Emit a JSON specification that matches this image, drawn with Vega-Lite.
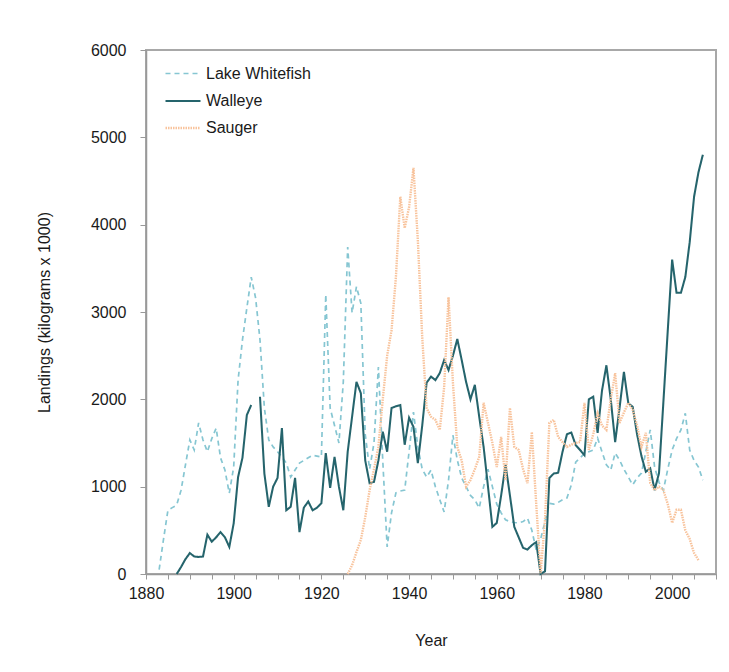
{
  "$schema": "https://vega.github.io/schema/vega-lite/v6.json",
  "width": 570,
  "height": 524,
  "autosize": {"type": "none"},
  "padding": {"left": 146, "top": 50, "right": 13, "bottom": 98},
  "background": "white",
  "config": {
    "font": "Liberation Sans",
    "view": {"stroke": "#a8a8a8", "strokeWidth": 2},
    "axis": {"labelFont": "Liberation Sans", "titleFont": "Liberation Sans", "labelColor": "#1a1a1a", "titleColor": "#1a1a1a", "labelFontSize": 16, "titleFontSize": 16, "titleFontWeight": "normal", "domainColor": "#999", "domainWidth": 1.5, "tickColor": "#999", "grid": false}
  },
  "data": {"values": [
    {"year":1883,"Lake Whitefish":50},
    {"year":1884,"Lake Whitefish":400},
    {"year":1885,"Lake Whitefish":730},
    {"year":1886,"Lake Whitefish":760},
    {"year":1887,"Lake Whitefish":790,"Walleye":0},
    {"year":1888,"Lake Whitefish":960,"Walleye":80},
    {"year":1889,"Lake Whitefish":1250,"Walleye":170},
    {"year":1890,"Lake Whitefish":1535,"Walleye":240},
    {"year":1891,"Lake Whitefish":1420,"Walleye":200},
    {"year":1892,"Lake Whitefish":1730,"Walleye":195},
    {"year":1893,"Lake Whitefish":1535,"Walleye":200},
    {"year":1894,"Lake Whitefish":1400,"Walleye":450},
    {"year":1895,"Lake Whitefish":1550,"Walleye":370},
    {"year":1896,"Lake Whitefish":1670,"Walleye":420},
    {"year":1897,"Lake Whitefish":1330,"Walleye":480},
    {"year":1898,"Lake Whitefish":1190,"Walleye":420},
    {"year":1899,"Lake Whitefish":925,"Walleye":310},
    {"year":1900,"Lake Whitefish":1225,"Walleye":580},
    {"year":1901,"Lake Whitefish":2220,"Walleye":1110},
    {"year":1902,"Lake Whitefish":2680,"Walleye":1330},
    {"year":1903,"Lake Whitefish":3045,"Walleye":1820},
    {"year":1904,"Lake Whitefish":3400,"Walleye":1935},
    {"year":1905,"Lake Whitefish":3160,"Walleye":null},
    {"year":1906,"Lake Whitefish":2680,"Walleye":2030},
    {"year":1907,"Lake Whitefish":1900,"Walleye":1150},
    {"year":1908,"Lake Whitefish":1535,"Walleye":770},
    {"year":1909,"Lake Whitefish":1455,"Walleye":1000},
    {"year":1910,"Lake Whitefish":1400,"Walleye":1100},
    {"year":1911,"Lake Whitefish":1340,"Walleye":1670},
    {"year":1912,"Lake Whitefish":1270,"Walleye":730},
    {"year":1913,"Lake Whitefish":1110,"Walleye":770},
    {"year":1914,"Lake Whitefish":1190,"Walleye":1100},
    {"year":1915,"Lake Whitefish":1270,"Walleye":480},
    {"year":1916,"Lake Whitefish":1300,"Walleye":760},
    {"year":1917,"Lake Whitefish":1330,"Walleye":830},
    {"year":1918,"Lake Whitefish":1360,"Walleye":730},
    {"year":1919,"Lake Whitefish":1350,"Walleye":760},
    {"year":1920,"Lake Whitefish":1340,"Walleye":810},
    {"year":1921,"Lake Whitefish":3200,"Walleye":1385},
    {"year":1922,"Lake Whitefish":1900,"Walleye":985},
    {"year":1923,"Lake Whitefish":1700,"Walleye":1340},
    {"year":1924,"Lake Whitefish":1500,"Walleye":1000},
    {"year":1925,"Lake Whitefish":2200,"Walleye":730},
    {"year":1926,"Lake Whitefish":3745,"Walleye":1400,"Sauger":0},
    {"year":1927,"Lake Whitefish":2990,"Walleye":1800,"Sauger":100},
    {"year":1928,"Lake Whitefish":3290,"Walleye":2200,"Sauger":250},
    {"year":1929,"Lake Whitefish":3100,"Walleye":2070,"Sauger":390},
    {"year":1930,"Lake Whitefish":1600,"Walleye":1300,"Sauger":650},
    {"year":1931,"Lake Whitefish":1200,"Walleye":1040,"Sauger":960},
    {"year":1932,"Lake Whitefish":1500,"Walleye":1055,"Sauger":1200},
    {"year":1933,"Lake Whitefish":2370,"Walleye":1300,"Sauger":1455},
    {"year":1934,"Lake Whitefish":1300,"Walleye":1630,"Sauger":2000},
    {"year":1935,"Lake Whitefish":310,"Walleye":1400,"Sauger":2500},
    {"year":1936,"Lake Whitefish":700,"Walleye":1900,"Sauger":2790},
    {"year":1937,"Lake Whitefish":930,"Walleye":1920,"Sauger":3400},
    {"year":1938,"Lake Whitefish":950,"Walleye":1935,"Sauger":4320},
    {"year":1939,"Lake Whitefish":960,"Walleye":1480,"Sauger":3960},
    {"year":1940,"Lake Whitefish":1400,"Walleye":1790,"Sauger":4200},
    {"year":1941,"Lake Whitefish":1855,"Walleye":1685,"Sauger":4650},
    {"year":1942,"Lake Whitefish":1455,"Walleye":1270,"Sauger":3820},
    {"year":1943,"Lake Whitefish":1200,"Walleye":1700,"Sauger":2710},
    {"year":1944,"Lake Whitefish":1110,"Walleye":2190,"Sauger":1900},
    {"year":1945,"Lake Whitefish":1190,"Walleye":2260,"Sauger":1800},
    {"year":1946,"Lake Whitefish":1000,"Walleye":2220,"Sauger":1765},
    {"year":1947,"Lake Whitefish":850,"Walleye":2300,"Sauger":1650},
    {"year":1948,"Lake Whitefish":710,"Walleye":2450,"Sauger":2140},
    {"year":1949,"Lake Whitefish":1075,"Walleye":2335,"Sauger":3170},
    {"year":1950,"Lake Whitefish":1590,"Walleye":2500,"Sauger":2190},
    {"year":1951,"Lake Whitefish":1305,"Walleye":2690,"Sauger":1455},
    {"year":1952,"Lake Whitefish":1100,"Walleye":2450,"Sauger":1300},
    {"year":1953,"Lake Whitefish":1000,"Walleye":2200,"Sauger":1000},
    {"year":1954,"Lake Whitefish":900,"Walleye":2000,"Sauger":1075},
    {"year":1955,"Lake Whitefish":850,"Walleye":2165,"Sauger":1200},
    {"year":1956,"Lake Whitefish":755,"Walleye":1800,"Sauger":1340},
    {"year":1957,"Lake Whitefish":1000,"Walleye":1455,"Sauger":1960},
    {"year":1958,"Lake Whitefish":1200,"Walleye":1000,"Sauger":1730},
    {"year":1959,"Lake Whitefish":1000,"Walleye":540,"Sauger":1500},
    {"year":1960,"Lake Whitefish":800,"Walleye":585,"Sauger":1225},
    {"year":1961,"Lake Whitefish":700,"Walleye":900,"Sauger":1570},
    {"year":1962,"Lake Whitefish":620,"Walleye":1250,"Sauger":1075},
    {"year":1963,"Lake Whitefish":600,"Walleye":900,"Sauger":1900},
    {"year":1964,"Lake Whitefish":590,"Walleye":540,"Sauger":1455},
    {"year":1965,"Lake Whitefish":585,"Walleye":420,"Sauger":1420},
    {"year":1966,"Lake Whitefish":600,"Walleye":300,"Sauger":1200},
    {"year":1967,"Lake Whitefish":640,"Walleye":280,"Sauger":1040},
    {"year":1968,"Lake Whitefish":500,"Walleye":330,"Sauger":1625},
    {"year":1969,"Lake Whitefish":275,"Walleye":365,"Sauger":800},
    {"year":1970,"Lake Whitefish":400,"Walleye":0,"Sauger":10},
    {"year":1971,"Lake Whitefish":600,"Walleye":30,"Sauger":620},
    {"year":1972,"Lake Whitefish":810,"Walleye":1100,"Sauger":1730},
    {"year":1973,"Lake Whitefish":800,"Walleye":1150,"Sauger":1765},
    {"year":1974,"Lake Whitefish":820,"Walleye":1160,"Sauger":1570},
    {"year":1975,"Lake Whitefish":850,"Walleye":1400,"Sauger":1510},
    {"year":1976,"Lake Whitefish":870,"Walleye":1600,"Sauger":1455},
    {"year":1977,"Lake Whitefish":1020,"Walleye":1620,"Sauger":1480},
    {"year":1978,"Lake Whitefish":1280,"Walleye":1475,"Sauger":1500},
    {"year":1979,"Lake Whitefish":1330,"Walleye":1420,"Sauger":1510},
    {"year":1980,"Lake Whitefish":1380,"Walleye":1360,"Sauger":1960},
    {"year":1981,"Lake Whitefish":1400,"Walleye":2000,"Sauger":1420},
    {"year":1982,"Lake Whitefish":1420,"Walleye":2030,"Sauger":1600},
    {"year":1983,"Lake Whitefish":1555,"Walleye":1615,"Sauger":1840},
    {"year":1984,"Lake Whitefish":1400,"Walleye":2100,"Sauger":1700},
    {"year":1985,"Lake Whitefish":1250,"Walleye":2390,"Sauger":1650},
    {"year":1986,"Lake Whitefish":1190,"Walleye":2000,"Sauger":2000},
    {"year":1987,"Lake Whitefish":1385,"Walleye":1510,"Sauger":2300},
    {"year":1988,"Lake Whitefish":1305,"Walleye":1900,"Sauger":1730},
    {"year":1989,"Lake Whitefish":1200,"Walleye":2315,"Sauger":1850},
    {"year":1990,"Lake Whitefish":1110,"Walleye":1955,"Sauger":1960},
    {"year":1991,"Lake Whitefish":1020,"Walleye":1915,"Sauger":1880},
    {"year":1992,"Lake Whitefish":1100,"Walleye":1600,"Sauger":1700},
    {"year":1993,"Lake Whitefish":1155,"Walleye":1350,"Sauger":1455},
    {"year":1994,"Lake Whitefish":1400,"Walleye":1170,"Sauger":1615},
    {"year":1995,"Lake Whitefish":1650,"Walleye":1210,"Sauger":1040},
    {"year":1996,"Lake Whitefish":1225,"Walleye":960,"Sauger":960},
    {"year":1997,"Lake Whitefish":1050,"Walleye":1155,"Sauger":1000},
    {"year":1998,"Lake Whitefish":960,"Walleye":1970,"Sauger":960},
    {"year":1999,"Lake Whitefish":1200,"Walleye":2790,"Sauger":800},
    {"year":2000,"Lake Whitefish":1420,"Walleye":3600,"Sauger":585},
    {"year":2001,"Lake Whitefish":1550,"Walleye":3220,"Sauger":735},
    {"year":2002,"Lake Whitefish":1650,"Walleye":3220,"Sauger":735},
    {"year":2003,"Lake Whitefish":1840,"Walleye":3400,"Sauger":500},
    {"year":2004,"Lake Whitefish":1420,"Walleye":3800,"Sauger":400},
    {"year":2005,"Lake Whitefish":1300,"Walleye":4320,"Sauger":240},
    {"year":2006,"Lake Whitefish":1225,"Walleye":4600,"Sauger":160},
    {"year":2007,"Lake Whitefish":1075,"Walleye":4800}
  ]},
  "transform": [
    {"fold": ["Lake Whitefish", "Walleye", "Sauger"], "as": ["species", "landings"]}
  ],
  "mark": {"type": "line", "interpolate": "linear"},
  "encoding": {
    "x": {
      "field": "year", "type": "quantitative",
      "scale": {"domain": [1880, 2010], "nice": false, "zero": false},
      "axis": {
        "title": "Year",
        "values": [1880,1885,1890,1895,1900,1905,1910,1915,1920,1925,1930,1935,1940,1945,1950,1955,1960,1965,1970,1975,1980,1985,1990,1995,2000,2005,2010],
        "format": "d",
        "labelExpr": "datum.value % 20 == 0 && datum.value < 2010 ? datum.label : ''",
        "tickSize": 5, "labelPadding": 6, "titlePadding": 31, "labelFlush": false, "labelOverlap": false
      }
    },
    "y": {
      "field": "landings", "type": "quantitative",
      "scale": {"domain": [0, 6000], "nice": false},
      "axis": {
        "title": "Landings (kilograms x 1000)",
        "values": [0,1000,2000,3000,4000,5000,6000],
        "format": "d",
        "tickSize": 6, "labelPadding": 14, "titlePadding": 38
      }
    },
    "color": {
      "field": "species", "type": "nominal",
      "scale": {"domain": ["Lake Whitefish", "Walleye", "Sauger"], "range": ["#86c6d2", "#25646c", "#f8c39c"]},
      "legend": {
        "title": null, "orient": "none", "legendX": 18, "legendY": 5,
        "labelFontSize": 16, "labelColor": "#1a1a1a", "labelFont": "Liberation Sans",
        "symbolType": "stroke", "symbolSize": 1225, "symbolStrokeWidth": 2,
        "rowPadding": -6, "labelOffset": 4, "padding": 0
      }
    },
    "strokeDash": {
      "field": "species", "type": "nominal",
      "scale": {"domain": ["Lake Whitefish", "Walleye", "Sauger"], "range": [[5, 4], [1, 0], [1.5, 1]]},
      "legend": {
        "title": null, "orient": "none", "legendX": 18, "legendY": 5,
        "labelFontSize": 16, "labelColor": "#1a1a1a", "labelFont": "Liberation Sans",
        "symbolType": "stroke", "symbolSize": 1225, "symbolStrokeWidth": 2,
        "rowPadding": -6, "labelOffset": 4, "padding": 0
      }
    },
    "strokeWidth": {
      "field": "species", "type": "nominal",
      "scale": {"domain": ["Lake Whitefish", "Walleye", "Sauger"], "range": [1.7, 2.4, 1.5]},
      "legend": null
    }
  }
}
